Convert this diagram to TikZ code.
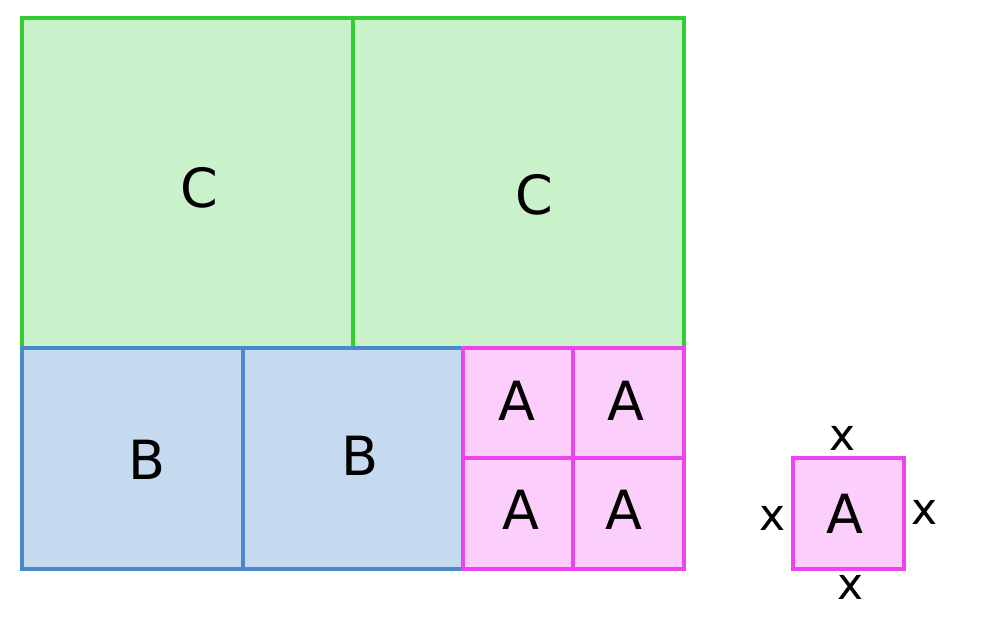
\documentclass[tikz,border=0pt]{standalone}
\usepackage{fontspec}
\setmainfont{DejaVu Sans}
\begin{document}
\begin{tikzpicture}[x=1pt,y=-1pt,
 gbox/.style={draw=gs,fill=gf,line width=3.5pt},
 bbox/.style={draw=bs,fill=bf,line width=3.5pt},
 pbox/.style={draw=ps,fill=pf,line width=3.5pt},
 lab/.style={font=\fontsize{54}{60}\selectfont,inner sep=0pt},
 xl/.style={font=\fontsize{44}{50}\selectfont,inner sep=0pt}]
\definecolor{gs}{HTML}{33CC33}\definecolor{gf}{HTML}{C9F2CB}
\definecolor{bs}{HTML}{4A88CC}\definecolor{bf}{HTML}{C5DAEE}
\definecolor{ps}{HTML}{EE44EE}\definecolor{pf}{HTML}{FCCEFC}
\useasboundingbox (0,0) rectangle (1000,620);
\draw[gbox] (22,18) rectangle (353,348);
\draw[gbox] (353,18) rectangle (684,348);
\draw[bbox] (22,348) rectangle (243,569);
\draw[bbox] (243,348) rectangle (463,569);
\draw[pbox] (463,348) rectangle (573,458);
\draw[pbox] (573,348) rectangle (684,458);
\draw[pbox] (463,458) rectangle (573,569);
\draw[pbox] (573,458) rectangle (684,569);
\draw[pbox] (793,458) rectangle (904,569);
\node[lab] (c1) at (199,188) {C};
\node[lab] (c2) at (534,195) {C};
\node[lab] (b1) at (147,460) {B};
\node[lab] (b2) at (360,456) {B};
\node[lab] (a1) at (517,401) {A};
\node[lab] (a2) at (626,401) {A};
\node[lab] (a3) at (521,510) {A};
\node[lab] (a4) at (624,510) {A};
\node[lab] (a5) at (845,514) {A};
\node[xl] (x1) at (843,438) {x};
\node[xl] (x2) at (773,518) {x};
\node[xl] (x3) at (925,512) {x};
\node[xl] (x4) at (851,587) {x};
\end{tikzpicture}
\end{document}
